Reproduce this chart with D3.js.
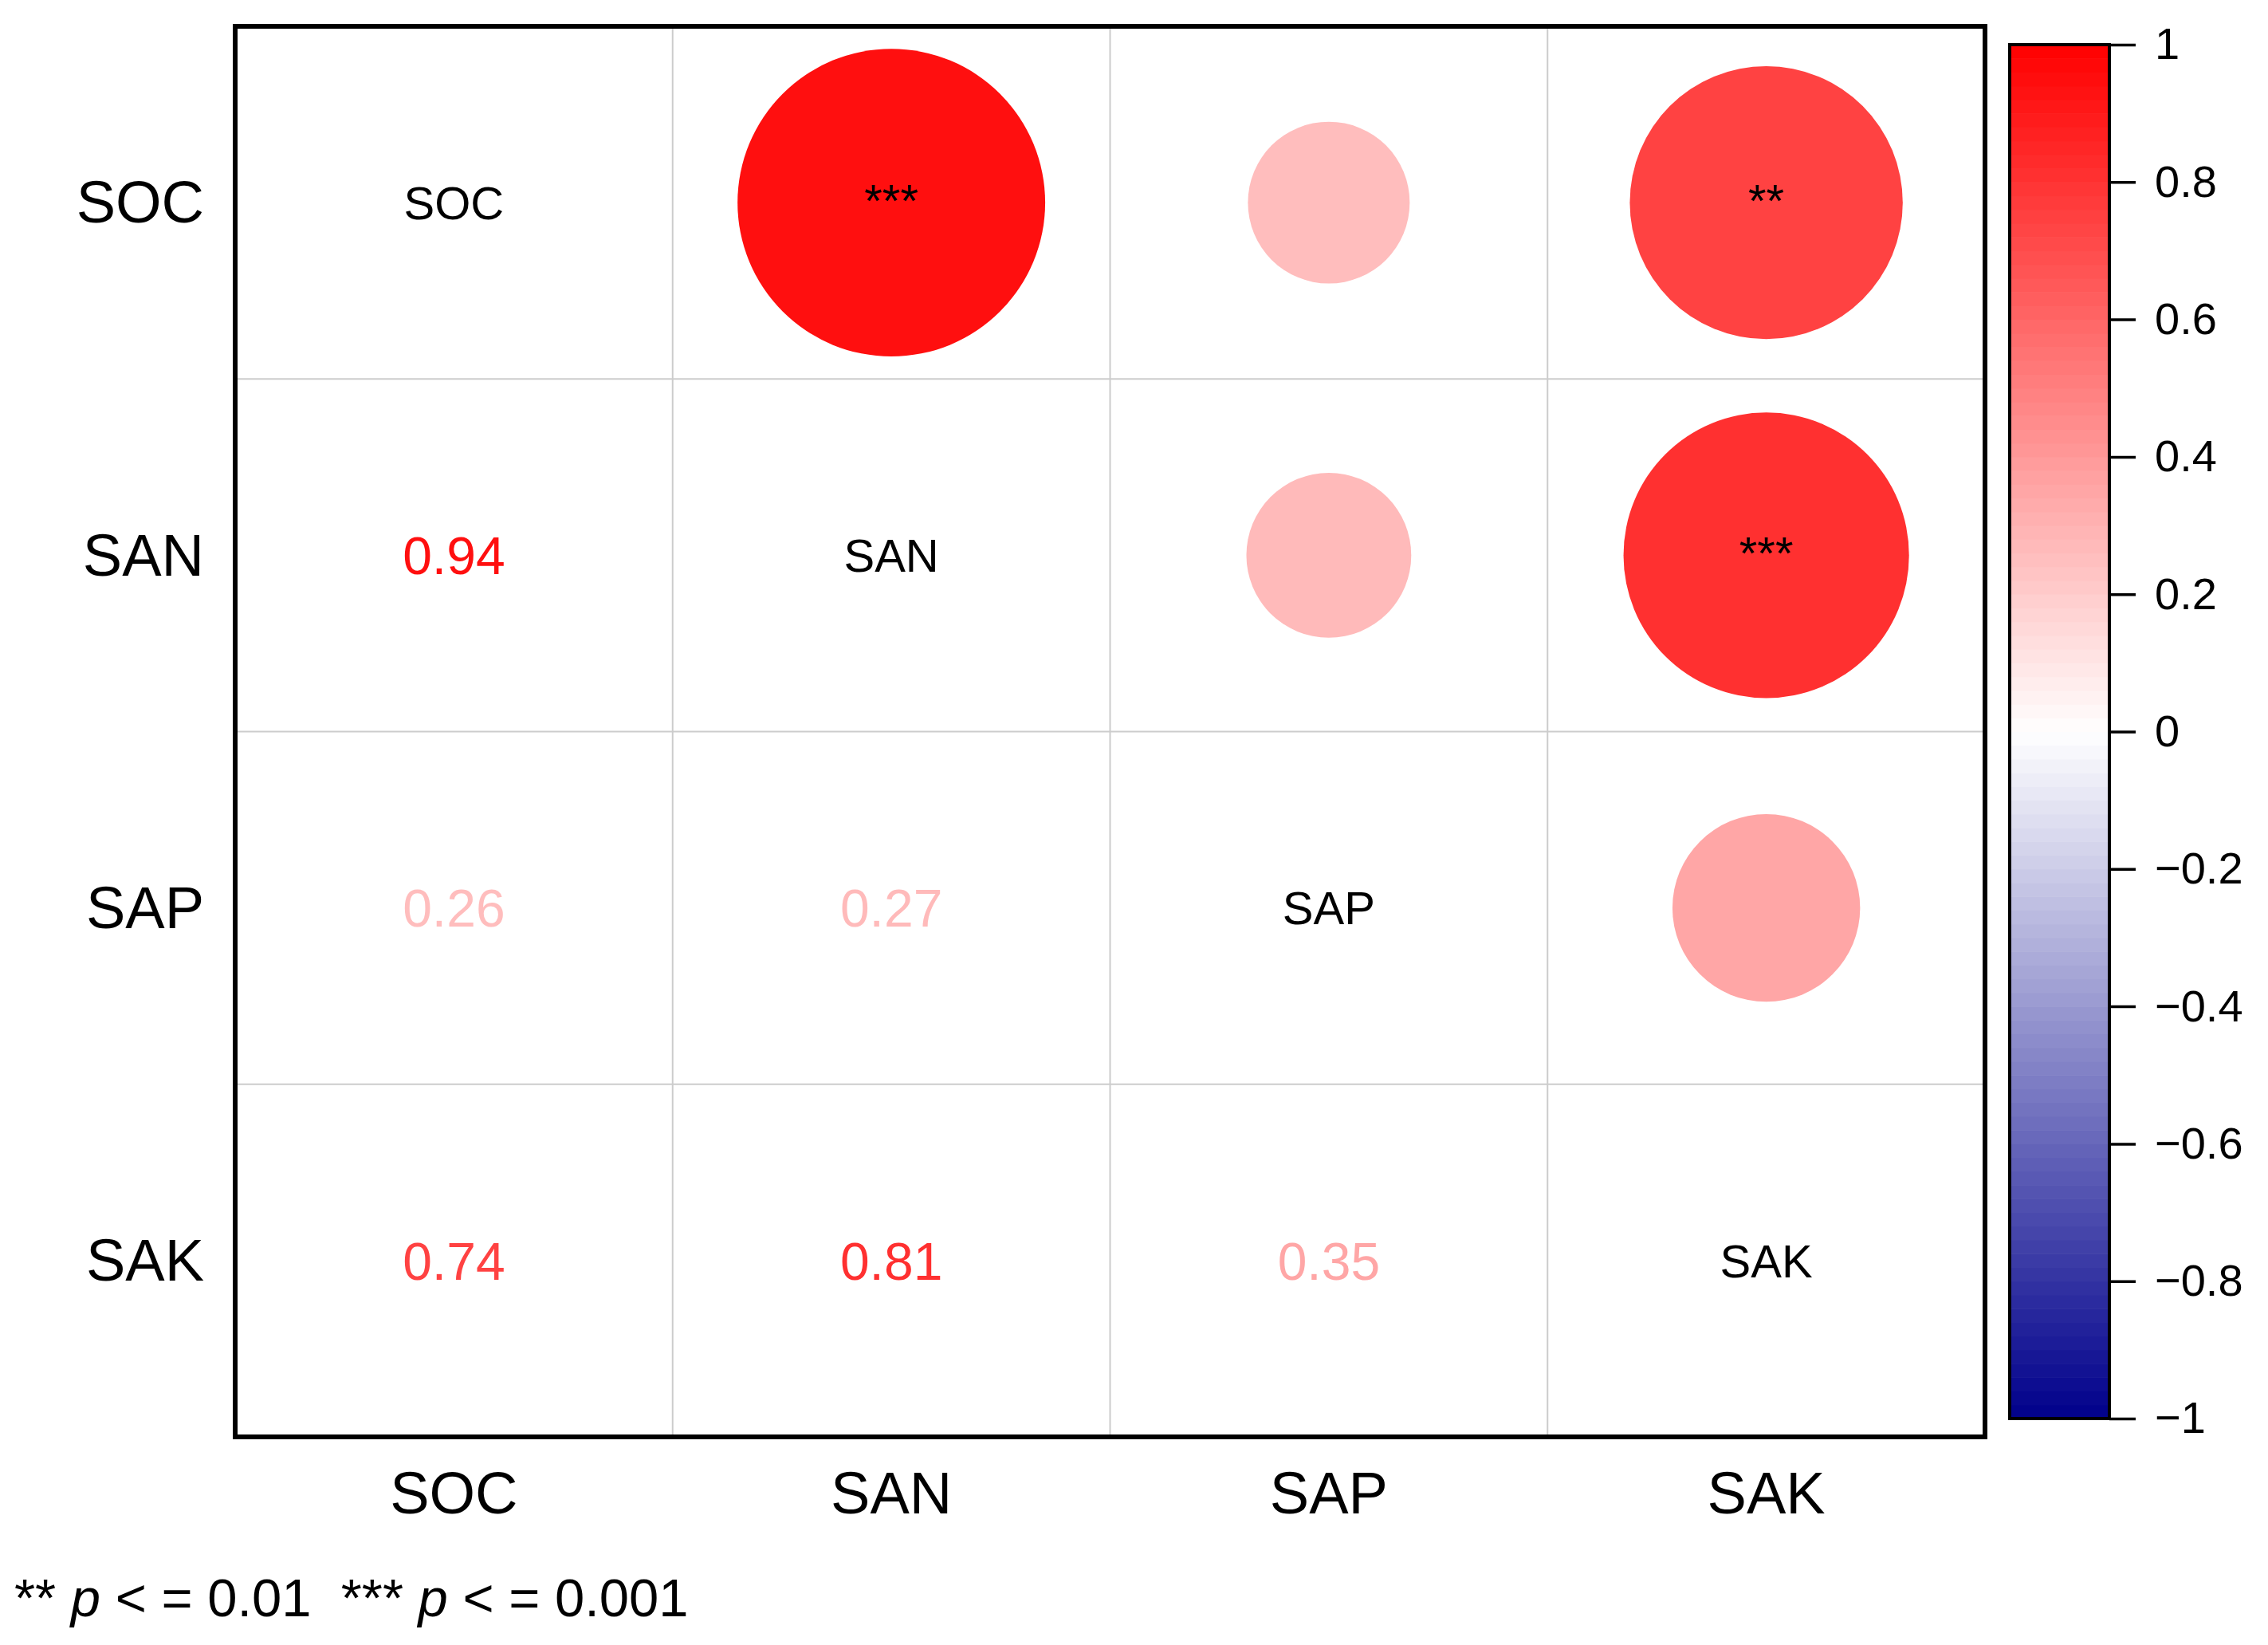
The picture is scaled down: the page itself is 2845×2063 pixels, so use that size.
<!DOCTYPE html>
<html><head><meta charset="utf-8">
<script src="https://cdn.jsdelivr.net/npm/d3@7"></script>
<style>html,body{margin:0;padding:0;background:#fff;}svg{display:block;}</style>
</head><body>
<svg id="chart" width="2845" height="2063"></svg>
<script>
const variables = ["SOC", "SAN", "SAP", "SAK"];
// correlation matrix (rows x cols)
const corrValues = [
  [1.00, 0.94, 0.26, 0.74],
  [0.94, 1.00, 0.27, 0.81],
  [0.26, 0.27, 1.00, 0.35],
  [0.74, 0.81, 0.35, 1.00]
];
const sigLabels = [
  ["", "***", "", "**"],
  ["", "", "", "***"],
  ["", "", "", ""],
  ["", "", "", ""]
];
const colorbarTicks = [1, 0.8, 0.6, 0.4, 0.2, 0, -0.2, -0.4, -0.6, -0.8, -1];
const colorbarTickLabels = ["1", "0.8", "0.6", "0.4", "0.2", "0", "\u22120.2", "\u22120.4", "\u22120.6", "\u22120.8", "\u22121"];
const footnoteParts = [
  {t: "** ", i: false}, {t: "p", i: true}, {t: " < = 0.01  *** ", i: false}, {t: "p", i: true}, {t: " < = 0.001", i: false}
];

const FONT = "'Liberation Sans', Arial, Helvetica, sans-serif";
const svg = d3.select("#chart");
const W = 2845, H = 2063;
svg.append("rect").attr("width", W).attr("height", H).attr("fill", "#fff");

const plot = {x0: 295, x1: 2490, y0: 33, y1: 1802};
const x = d3.scaleBand().domain(variables).range([plot.x0, plot.x1]).padding(0);
const y = d3.scaleBand().domain(variables).range([plot.y0, plot.y1]).padding(0);
const color = d3.scaleLinear().domain([-1, 0, 1]).range(["#00008B", "#FFFFFF", "#FF0000"]);
const rScale = d3.scaleSqrt().domain([0, 1]).range([0, 199]);

const cells = [];
variables.forEach((rv, i) => variables.forEach((cv, j) => {
  cells.push({row: rv, col: cv, i, j, v: corrValues[i][j], sig: sigLabels[i][j]});
}));

// grid
const g = svg.append("g");
const gridPos = variables.map(v => x(v)).concat([plot.x1]);
const gridPosY = variables.map(v => y(v)).concat([plot.y1]);
g.selectAll("line.gx").data(gridPos).join("line")
  .attr("x1", d => d).attr("x2", d => d).attr("y1", plot.y0).attr("y2", plot.y1)
  .attr("stroke", "#cccccc").attr("stroke-width", 2);
g.selectAll("line.gy").data(gridPosY).join("line")
  .attr("y1", d => d).attr("y2", d => d).attr("x1", plot.x0).attr("x2", plot.x1)
  .attr("stroke", "#cccccc").attr("stroke-width", 2);

const cx = d => x(d.col) + x.bandwidth() / 2;
const cy = d => y(d.row) + y.bandwidth() / 2;

// upper: circles
const upper = cells.filter(d => d.j > d.i);
g.selectAll("circle.c").data(upper).join("circle")
  .attr("cx", cx).attr("cy", cy)
  .attr("r", d => rScale(Math.abs(d.v)))
  .attr("fill", d => color(d.v));
g.selectAll("text.sig").data(upper.filter(d => d.sig)).join("text")
  .attr("x", cx).attr("y", d => cy(d) + 18)
  .attr("text-anchor", "middle").attr("font-family", FONT).attr("font-size", 58)
  .attr("fill", "#000").text(d => d.sig);

// diagonal: names
g.selectAll("text.diag").data(cells.filter(d => d.i === d.j)).join("text")
  .attr("x", cx).attr("y", d => cy(d) + 0.358 * 58)
  .attr("text-anchor", "middle").attr("font-family", FONT).attr("font-size", 58)
  .attr("fill", "#000").text(d => d.row);

// lower: numbers
g.selectAll("text.num").data(cells.filter(d => d.j < d.i)).join("text")
  .attr("x", cx).attr("y", d => cy(d) + 0.358 * 66)
  .attr("text-anchor", "middle").attr("font-family", FONT).attr("font-size", 66)
  .attr("fill", d => color(d.v)).text(d => d.v.toFixed(2));

// border
g.append("rect").attr("x", plot.x0).attr("y", plot.y0)
  .attr("width", plot.x1 - plot.x0).attr("height", plot.y1 - plot.y0)
  .attr("fill", "none").attr("stroke", "#000").attr("stroke-width", 6);

// row labels
svg.selectAll("text.rowlab").data(variables).join("text")
  .attr("x", 256).attr("y", d => y(d) + y.bandwidth() / 2 + 0.34 * 74)
  .attr("text-anchor", "end").attr("font-family", FONT).attr("font-size", 74)
  .attr("fill", "#000").text(d => d);

// column labels
svg.selectAll("text.collab").data(variables).join("text")
  .attr("x", d => x(d) + x.bandwidth() / 2).attr("y", 1898)
  .attr("text-anchor", "middle").attr("font-family", FONT).attr("font-size", 74)
  .attr("fill", "#000").text(d => d);

// colorbar
const cb = {x0: 2521, x1: 2646, y0: 56, y1: 1779};
const cbScale = d3.scaleLinear().domain([-1, 1]).range([cb.y1, cb.y0]);
const nBands = 100;
const bands = d3.range(nBands).map(k => {
  const lo = -1 + 2 * k / nBands, hi = -1 + 2 * (k + 1) / nBands;
  return {lo, hi, mid: (lo + hi) / 2};
});
svg.append("g").selectAll("rect").data(bands).join("rect")
  .attr("x", cb.x0).attr("width", cb.x1 - cb.x0)
  .attr("y", d => cbScale(d.hi)).attr("height", d => cbScale(d.lo) - cbScale(d.hi) + 0.6)
  .attr("fill", d => color(d.mid));
svg.append("rect").attr("x", cb.x0).attr("y", cb.y0)
  .attr("width", cb.x1 - cb.x0).attr("height", cb.y1 - cb.y0)
  .attr("fill", "none").attr("stroke", "#000").attr("stroke-width", 4);

const axis = d3.axisRight(cbScale).tickValues(colorbarTicks)
  .tickFormat((d, i) => colorbarTickLabels[i]).tickSize(33).tickPadding(24);
const ag = svg.append("g").attr("transform", `translate(${cb.x1},0)`).call(axis);
ag.select(".domain").remove();
ag.selectAll(".tick line").attr("stroke", "#000").attr("stroke-width", 3.5);
ag.selectAll(".tick text").attr("font-family", FONT).attr("font-size", 56).attr("fill", "#000");

// footnote
const fn = svg.append("text").attr("x", 18).attr("y", 2027)
  .attr("font-family", FONT).attr("font-size", 67).attr("fill", "#000")
  .attr("xml:space", "preserve").style("white-space", "pre");
fn.selectAll("tspan").data(footnoteParts).join("tspan")
  .attr("font-style", d => d.i ? "italic" : "normal").text(d => d.t);
</script>
</body></html>
